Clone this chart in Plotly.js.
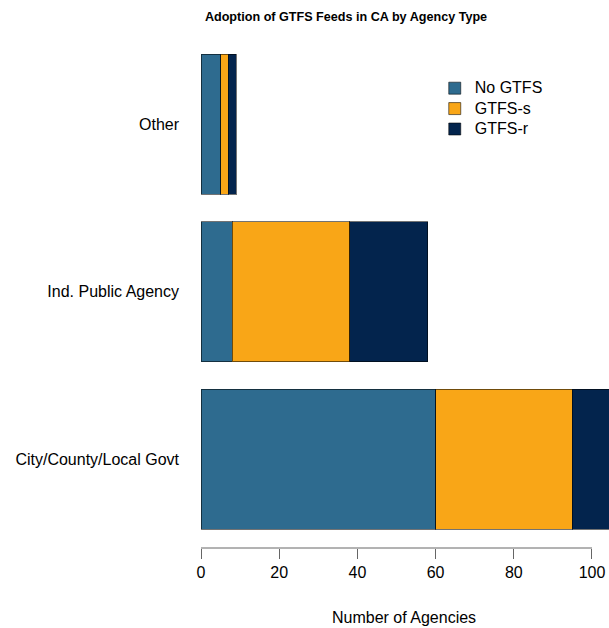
<!DOCTYPE html>
<html><head><meta charset="utf-8">
<script src="https://cdn.plot.ly/plotly-3.0.1.min.js"></script>
<style>html,body{margin:0;padding:0;background:#fff}</style>
</head><body>
<div id="chart" style="width:609px;height:628px"></div>
<script>
const categories = ["City/County/Local Govt", "Ind. Public Agency", "Other"];
const noGtfs = [60, 8, 5];
const gtfsS = [35, 30, 2];
const gtfsR = [10, 20, 2];
const seriesNames = ["No GTFS", "GTFS-s", "GTFS-r"];
const seriesColors = ["#2E6B8F", "#F9A617", "#03244D"];
const xTicks = [0, 20, 40, 60, 80, 100];
const xTitle = "Number of Agencies";

const font = "Liberation Sans, Arial, Helvetica, sans-serif";
const seriesVals = [noGtfs, gtfsS, gtfsR];
const traces = seriesVals.map((v, i) => ({
  type: "bar", orientation: "h", y: categories, x: v,
  name: '<span style="font-size:16px">' + seriesNames[i] + '</span>',
  marker: {color: seriesColors[i], line: {color: "rgba(0,0,0,0.55)", width: 1}},
  hoverinfo: "x"
}));

const layout = {
  width: 609, height: 628,
  margin: {l: 184, r: 0, t: 35, b: 80, autoexpand: false},
  barmode: "stack", bargap: 0.164,
  paper_bgcolor: "#fff", plot_bgcolor: "#fff",
  font: {family: font, size: 16, color: "#000"},
  title: {text: "<b>Adoption of GTFS Feeds in CA by Agency Type</b>", font: {family: font, size: 12.6, color: "#000"},
          x: 346/609, xanchor: "center", xref: "container", y: 1 - 17/628, yanchor: "middle", yref: "container"},
  xaxis: {range: [-4.35, 104.35], tickvals: xTicks, ticktext: xTicks.map(String),
          ticks: "outside", ticklen: 10, tickcolor: "#666", tickwidth: 1,
          showline: false, showgrid: false, zeroline: false, fixedrange: true,
          tickfont: {size: 16, color: "#000"}},
  yaxis: {categoryorder: "array", categoryarray: categories, range: [-0.531, 2.532],
          showline: false, showgrid: false, zeroline: false, ticks: "", ticklabelstandoff: 4,
          tickfont: {size: 16, color: "#000"}, fixedrange: true},
  legend: {x: 0.59, xanchor: "left", y: 0.926, yanchor: "top", yref: "paper", traceorder: "normal",
           font: {size: 13.4, color: "#000"}, bgcolor: "rgba(0,0,0,0)", tracegroupgap: 0},
  annotations: [{text: xTitle, xref: "paper", yref: "paper", x: 0.5176, y: -70/513,
                 xanchor: "center", yanchor: "middle", showarrow: false, font: {size: 16, color: "#000"}}],
  shapes: [{type: "line", xref: "x", yref: "paper", x0: xTicks[0], x1: xTicks[xTicks.length-1], y0: 0, y1: 0,
            line: {color: "#666", width: 1}}],
  showlegend: true
};
Plotly.newPlot("chart", traces, layout, {displayModeBar: false, staticPlot: true});
</script>
</body></html>
